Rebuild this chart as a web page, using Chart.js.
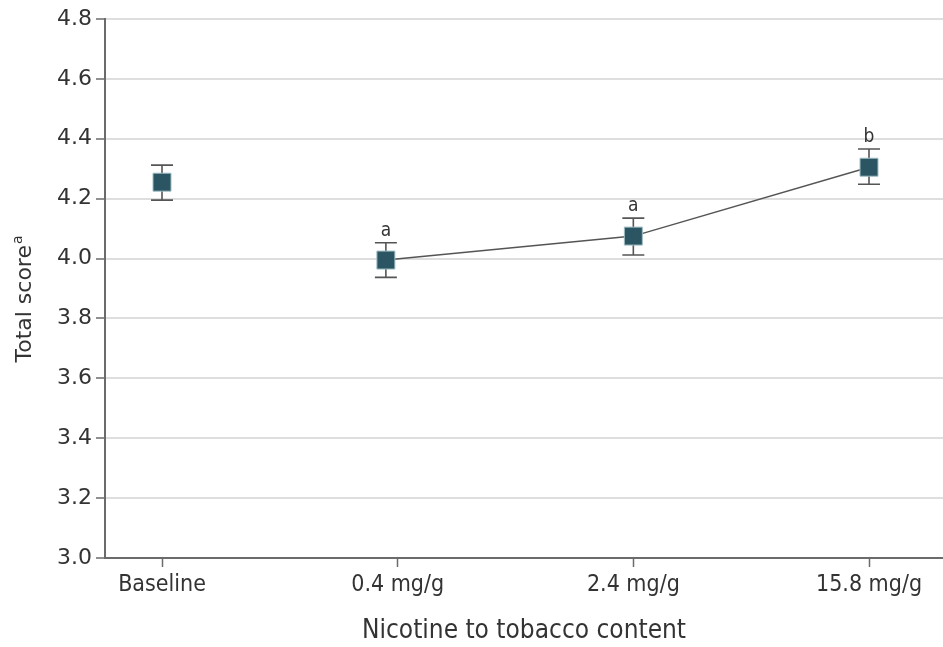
<!DOCTYPE html>
<html>
<head>
<meta charset="utf-8">
<script src="https://cdn.jsdelivr.net/npm/chart.js@4/dist/chart.umd.min.js"></script>
<style>
  html, body { margin: 0; padding: 0; background: #fff; }
  #wrap { width: 943px; height: 647px; }
</style>
</head>
<body>
<div id="wrap"><canvas id="scoreChart" width="943" height="647"></canvas></div>
<script>
// categories along the x axis and where each sits
const categories = ['Baseline', '0.4 mg/g', '2.4 mg/g', '15.8 mg/g'];
const tickPos = [0, 1, 2, 3];
const pointPos = [0, 0.95, 2, 3];   // 0.4 point sits a bit left of its tick

// mean total score with error bar ends
const means = [4.255, 3.995, 4.075, 4.305];
const lower = [4.195, 3.937, 4.012, 4.248];
const upper = [4.312, 4.053, 4.135, 4.366];
const letters = ['', 'a', 'a', 'b'];

const yTicks = [3.0, 3.2, 3.4, 3.6, 3.8, 4.0, 4.2, 4.4, 4.6, 4.8];

const ink = '#333';
const axisGrey = '#6b6b6b';
const markerFill = '#2b5562';

const points = means.map((m, i) => ({ x: pointPos[i], y: m }));

// error bars under the markers, letters and axis title on top
const extras = {
  id: 'extras',
  beforeDatasetsDraw(chart) {
    const { ctx, scales: { x, y } } = chart;
    ctx.save();
    ctx.strokeStyle = '#555';
    ctx.lineWidth = 1.6;
    means.forEach((m, i) => {
      const px = x.getPixelForValue(pointPos[i]);
      const top = y.getPixelForValue(upper[i]);
      const bot = y.getPixelForValue(lower[i]);
      ctx.beginPath();
      ctx.moveTo(px, top); ctx.lineTo(px, bot);
      ctx.moveTo(px - 11, top); ctx.lineTo(px + 11, top);
      ctx.moveTo(px - 11, bot); ctx.lineTo(px + 11, bot);
      ctx.stroke();
    });
    ctx.restore();
  },
  afterDraw(chart) {
    const { ctx, scales: { x, y } } = chart;
    ctx.save();
    ctx.fillStyle = ink;
    ctx.font = "19px 'DejaVu Sans Condensed', 'DejaVu Sans'";
    ctx.textAlign = 'center';
    ctx.textBaseline = 'alphabetic';
    letters.forEach((l, i) => {
      if (!l) return;
      ctx.fillText(l, x.getPixelForValue(pointPos[i]), y.getPixelForValue(upper[i]) - 7);
    });

    // y title with superscript a
    ctx.translate(25, 299);
    ctx.rotate(-Math.PI / 2);
    ctx.font = "22px 'DejaVu Sans'";
    const main = 'Total score';
    const w = ctx.measureText(main).width;
    ctx.font = "14px 'DejaVu Sans'";
    const wa = ctx.measureText('a').width;
    const start = -(w + wa + 1) / 2;
    ctx.textAlign = 'left';
    ctx.textBaseline = 'middle';
    ctx.font = "22px 'DejaVu Sans'";
    ctx.fillText(main, start, 0);
    ctx.font = "14px 'DejaVu Sans'";
    ctx.fillText('a', start + w + 1, -7);
    ctx.restore();
  }
};

new Chart(document.getElementById('scoreChart'), {
  type: 'scatter',
  data: {
    datasets: [
      {
        // connecting line for the three nicotine levels
        type: 'line',
        data: points.slice(1),
        borderColor: '#555',
        borderWidth: 1.5,
        pointRadius: 0,
        fill: false,
        order: 2
      },
      {
        data: points,
        pointStyle: 'rect',
        pointRadius: 12.7,
        pointHoverRadius: 12.7,
        backgroundColor: markerFill,
        borderColor: '#9dbcc2',
        borderWidth: 1,
        showLine: false,
        order: 1
      }
    ]
  },
  options: {
    responsive: false,
    animation: false,
    layout: { autoPadding: false, padding: { left: 0, right: 0, top: 19, bottom: 0 } },
    plugins: {
      legend: { display: false },
      tooltip: { enabled: false }
    },
    scales: {
      x: {
        type: 'linear',
        min: -0.2419,
        max: 3.314,
        afterBuildTicks: s => { s.ticks = tickPos.map(v => ({ value: v })); },
        afterFit: s => { s.height = 89; s.paddingLeft = 0; s.paddingRight = 0; },
        border: { color: axisGrey, width: 2 },
        grid: { drawOnChartArea: false, drawTicks: true, tickLength: 9, tickColor: axisGrey, tickWidth: 1.5 },
        ticks: {
          padding: 4,
          color: ink,
          font: { family: "'DejaVu Sans Condensed', 'DejaVu Sans'", size: 23 },
          callback: v => categories[tickPos.indexOf(v)] ?? ''
        },
        title: {
          display: true,
          text: 'Nicotine to tobacco content',
          color: ink,
          font: { family: "'DejaVu Sans Condensed', 'DejaVu Sans'", size: 26 },
          padding: { top: 7, bottom: 0 }
        }
      },
      y: {
        min: 3,
        max: 4.8,
        afterBuildTicks: s => { s.ticks = yTicks.map(v => ({ value: v })); },
        afterFit: s => { s.width = 105; },
        border: { color: axisGrey, width: 2 },
        grid: { color: '#dedede', lineWidth: 2, tickLength: 9, tickColor: axisGrey, tickWidth: 1.5 },
        ticks: {
          padding: 4,
          color: ink,
          font: { family: "'DejaVu Sans'", size: 22 },
          callback: v => v.toFixed(1)
        }
      }
    }
  },
  plugins: [extras]
});
</script>
</body>
</html>
